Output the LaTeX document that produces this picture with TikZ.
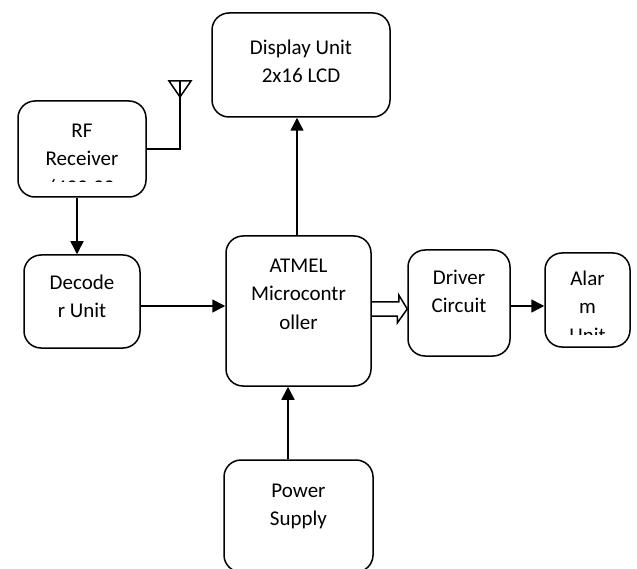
\documentclass[tikz,border=0pt]{standalone}
\usepackage{fontspec}
\setmainfont{Carlito}
\usetikzlibrary{arrows.meta,calc}
\tikzset{
  blk/.style={draw,line width=1.5pt,rounded corners=17pt,inner sep=0pt},
  lbl/.style={align=center,anchor=north,inner sep=0pt,font=\fontsize{21}{28.5}\selectfont},
  conn/.style={line width=1.5pt,-{Triangle[length=13pt,width=13pt]}}
}
\begin{document}
\begin{tikzpicture}[x=1pt,y=-1pt]
\clip (0,0) rectangle (637,569);
% blocks
\node[blk,minimum width=178pt,minimum height=104pt](disp) at (301,65){};
\node[blk,minimum width=128pt,minimum height=96pt](rf) at (82,149){};
\node[blk,minimum width=116pt,minimum height=93pt](dec) at (82,301.5){};
\node[blk,minimum width=145pt,minimum height=150pt](mcu) at (298.5,311){};
\node[blk,minimum width=102pt,minimum height=106pt](drv) at (459,303){};
\node[blk,minimum width=85pt,minimum height=94pt](alm) at (587.5,300){};
\node[blk,minimum width=149pt,minimum height=112pt](pwr) at (298.5,516){};
% texts
\node[lbl](dispt) at (301,34){\strut Display Unit\\2x16 LCD};
\begin{scope}
\clip (rf.north west) rectangle (146,182);
\node[lbl](rft) at (82,117){\strut RF\\Receiver\\(433.92};
\end{scope}
\node[lbl](dect) at (82,269){\strut Decode\\r Unit};
\node[lbl](mcut) at (298.5,252){\strut ATMEL\\Microcontr\\oller};
\node[lbl](drvt) at (459,264){\strut Driver\\Circuit};
\begin{scope}
\clip (alm.north west) rectangle (630,334);
\node[lbl](almt) at (587.5,265){\strut Alar\\m\\Unit};
\end{scope}
\node[lbl](pwrt) at (298.5,477){\strut Power\\Supply};
% antenna
\coordinate (ant) at (180,97);
\draw[line width=1.5pt](rf.east)-|(ant)--++(0,-16);
\draw[line width=1.5pt](ant)--++(-11,-16)--++(22,0)--cycle;
% connector ends
\coordinate (rfo) at ($(rf.south)+(-5,0)$);
\coordinate (deco) at ($(dec.east)+(0,4.5)$);
\coordinate (mcuo) at ($(mcu.north)+(-1.5,0)$);
\coordinate (pwro) at ($(pwr.north)+(-10.5,0)$);
\coordinate (drvo) at ($(drv.east)+(0,3)$);
\coordinate (tip) at ($(drv.west)+(0,6)$);
% connectors
\draw[conn](rfo)--(rfo|-dec.north);
\draw[conn](deco)--(deco-|mcu.west);
\draw[conn](mcuo)--(mcuo|-disp.south);
\draw[conn](pwro)--(pwro|-mcu.south);
\draw[conn](drvo)--(drvo-|alm.west);
\draw[line width=1.5pt,line join=miter]($(tip-|mcu.east)+(0,-7)$)--++(27,0)--++(0,-7)--(tip)
  --++(-10,14)--++(0,-7)--($(tip-|mcu.east)+(0,7)$);
\end{tikzpicture}
\end{document}
